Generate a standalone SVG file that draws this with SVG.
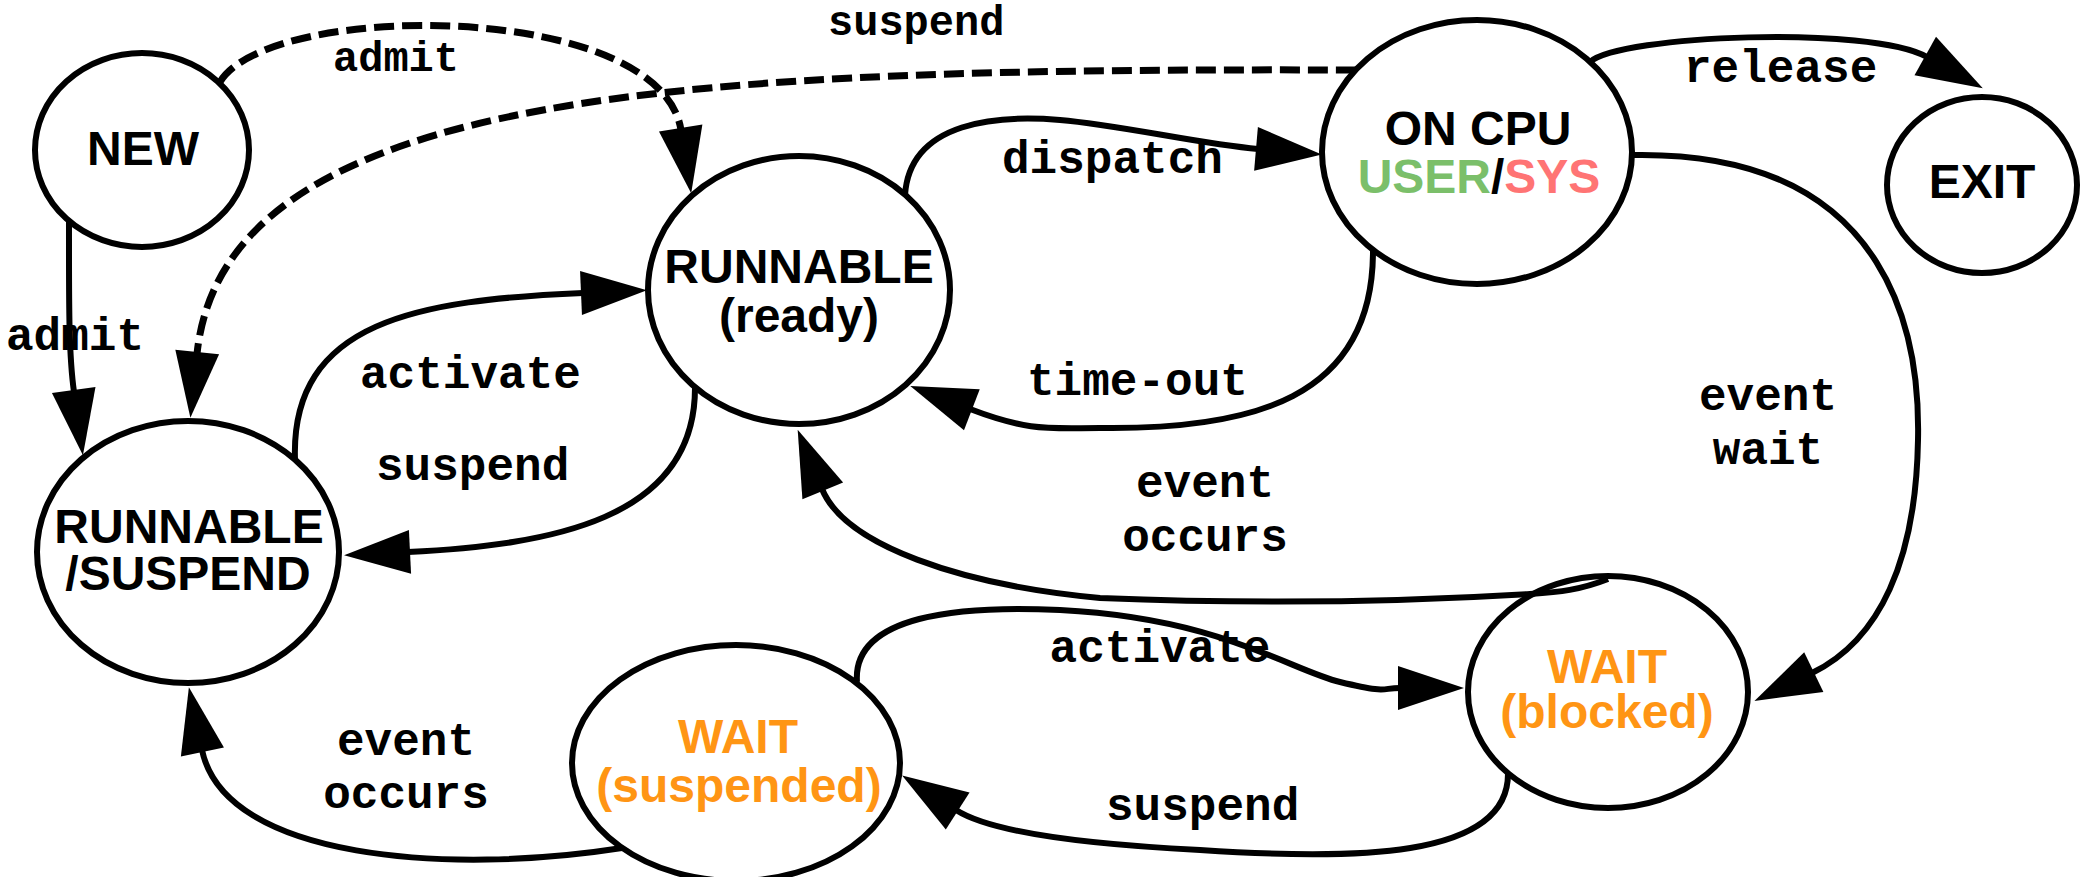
<svg xmlns="http://www.w3.org/2000/svg" width="2083" height="877" viewBox="0 0 2083 877">
  <style>
    .node ellipse { fill: #ffffff; stroke: #000000; stroke-width: 6; }
    .node text { font-family: "Liberation Sans", Arial, sans-serif; font-weight: bold; font-size: 48px; text-anchor: middle; fill: #000000; }
    .node text.wait { fill: #ff9514; }
    .user { fill: #7bbf6a; }
    .sys { fill: #ff7474; }
    .edge { fill: none; stroke: #000000; stroke-width: 6; marker-end: url(#arrow); }
    .dashed { stroke-width: 7; stroke-dasharray: 20 8; }
    .label { font-family: "Liberation Mono", "Courier New", monospace; font-weight: bold; font-size: 46px; fill: #000000; }
    .label.small { font-size: 42px; }
    .mid { text-anchor: middle; }
  </style>
  <defs>
    <marker id="arrow" markerUnits="userSpaceOnUse" markerWidth="70" markerHeight="46" refX="2" refY="22" orient="auto" overflow="visible">
      <path d="M0,0 L66,22 L0,44 Z" fill="#000000"/>
    </marker>
  </defs>
  <rect width="2083" height="877" fill="#ffffff"/>

  <!-- states -->
  <g id="new" class="node">
    <ellipse cx="142" cy="150" rx="107" ry="97"/>
    <text x="143" y="165">NEW</text>
  </g>
  <g id="runnable" class="node">
    <ellipse cx="799" cy="290" rx="151" ry="134"/>
    <text x="799" y="283">RUNNABLE<tspan x="799" dy="49">(ready)</tspan></text>
  </g>
  <g id="runnable-suspend" class="node">
    <ellipse cx="188" cy="552" rx="151" ry="131"/>
    <text x="189" y="543">RUNNABLE<tspan x="188" dy="47">/SUSPEND</tspan></text>
  </g>
  <g id="on-cpu" class="node">
    <ellipse cx="1477" cy="152" rx="155" ry="132"/>
    <text x="1478" y="145">ON CPU<tspan x="1479" dy="48"><tspan class="user">USER</tspan>/<tspan class="sys">SYS</tspan></tspan></text>
  </g>
  <g id="exit" class="node">
    <ellipse cx="1982" cy="185" rx="95" ry="88"/>
    <text x="1982" y="198">EXIT</text>
  </g>
  <g id="wait-blocked" class="node">
    <ellipse cx="1608" cy="692" rx="140" ry="116"/>
    <text class="wait" x="1607" y="683">WAIT<tspan x="1607" dy="45">(blocked)</tspan></text>
  </g>
  <g id="wait-suspended" class="node">
    <ellipse cx="736" cy="763" rx="164" ry="118"/>
    <text class="wait" x="738" y="753">WAIT<tspan x="739" dy="49">(suspended)</tspan></text>
  </g>

  <!-- transitions -->
  <g id="connectors">
    <!-- NEW -> RUNNABLE/SUSPEND -->
    <path class="edge" d="M69,221 C69,300 68.5,353 74,392"/>
    <!-- NEW -> RUNNABLE (ready), dashed -->
    <path class="edge dashed" d="M220,82 C270,0 660,0 681,130"/>
    <!-- ON CPU -> RUNNABLE/SUSPEND, dashed -->
    <path class="edge dashed" d="M1356,70 C700,68 225,85 197,354"/>
    <!-- RUNNABLE (ready) -> ON CPU -->
    <path class="edge" d="M905,195 C910,120 1000,115 1060,120 S1200,144 1258,149"/>
    <!-- ON CPU -> RUNNABLE (ready) -->
    <path class="edge" d="M1373,251 C1373,400 1250,430 1100,428 C1050,428 1030,432 970,409"/>
    <!-- RUNNABLE (ready) -> RUNNABLE/SUSPEND -->
    <path class="edge" d="M695,388 C695,520 550,545 408,552"/>
    <!-- RUNNABLE/SUSPEND -> RUNNABLE (ready) -->
    <path class="edge" d="M295,460 C290,320 420,300 583,293"/>
    <!-- ON CPU -> EXIT -->
    <path class="edge" d="M1590,62 C1620,35 1870,25 1927,57"/>
    <!-- ON CPU -> WAIT (blocked) -->
    <path class="edge" d="M1632,155 C1900,150 1920,350 1918,440 C1916,560 1880,640 1812,673"/>
    <!-- WAIT (blocked) -> RUNNABLE (ready) -->
    <path class="edge" d="M1608,579 C1580,590 1560,592 1530,594 C1400,602 1250,604 1100,598 C960,585 845,545 822,489"/>
    <!-- WAIT (suspended) -> WAIT (blocked) -->
    <path class="edge" d="M857,682 C852,615 960,605 1060,610 C1220,618 1290,670 1340,682 S1380,688 1400,688"/>
    <!-- WAIT (blocked) -> WAIT (suspended) -->
    <path class="edge" d="M1508,774 C1508,860 1350,860 1200,850 C1100,845 995,835 956,810"/>
    <!-- WAIT (suspended) -> RUNNABLE/SUSPEND -->
    <path class="edge" d="M622,848 C450,875 225,860 202,750"/>
  </g>

  <g id="labels">
    <text class="label small" x="333" y="71">admit</text>
    <text class="label small" x="828" y="35">suspend</text>
    <text class="label" x="6" y="350">admit</text>
    <text class="label" x="360" y="388">activate</text>
    <text class="label" x="376" y="480">suspend</text>
    <text class="label" x="1002" y="173">dispatch</text>
    <text class="label" x="1027" y="395">time-out</text>
    <text class="label" x="1684" y="82">release</text>
    <text class="label mid" x="1768" y="410">event<tspan x="1768" dy="54">wait</tspan></text>
    <text class="label mid" x="1205" y="497">event<tspan x="1205" dy="54">occurs</tspan></text>
    <text class="label mid" x="406" y="755">event<tspan x="406" dy="53">occurs</tspan></text>
    <text class="label mid" x="1160" y="662">activate</text>
    <text class="label" x="1106" y="820">suspend</text>
  </g>
</svg>
